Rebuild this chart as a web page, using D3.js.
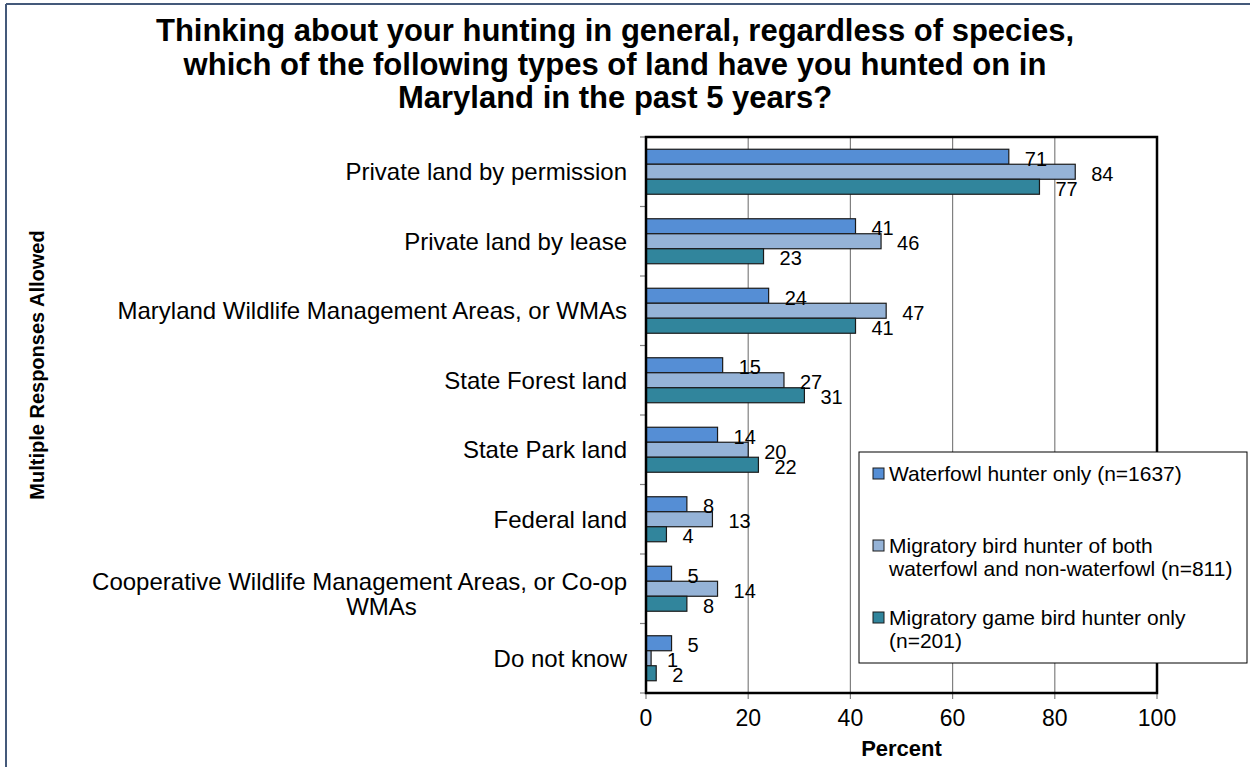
<!DOCTYPE html>
<html><head><meta charset="utf-8">
<script src="https://cdn.jsdelivr.net/npm/d3@7"></script>
<style>
body{margin:0;background:#fff;}
text{font-family:"Liberation Sans",Arial,sans-serif;fill:#000;}
</style></head>
<body>
<svg id="chart" width="1250" height="767"></svg>
<script>
const categories = [
  "Private land by permission",
  "Private land by lease",
  "Maryland Wildlife Management Areas, or WMAs",
  "State Forest land",
  "State Park land",
  "Federal land",
  "Cooperative Wildlife Management Areas, or Co-op WMAs",
  "Do not know"
];
const seriesNames = [
  "Waterfowl hunter only (n=1637)",
  "Migratory bird hunter of both waterfowl and non-waterfowl (n=811)",
  "Migratory game bird hunter only (n=201)"
];
const waterfowlOnly = [71, 41, 24, 15, 14, 8, 5, 5];
const bothTypes     = [84, 46, 47, 27, 20, 13, 14, 1];
const gameBirdOnly  = [77, 23, 41, 31, 22, 4, 8, 2];
const xTicks = [0, 20, 40, 60, 80, 100];
const titleLines = [
  "Thinking about your hunting in general, regardless of species,",
  "which of the following types of land have you hunted on in",
  "Maryland in the past 5 years?"
];
const categoryLabelLines = [
  ["Private land by permission"],
  ["Private land by lease"],
  ["Maryland Wildlife Management Areas, or WMAs"],
  ["State Forest land"],
  ["State Park land"],
  ["Federal land"],
  ["Cooperative Wildlife Management Areas, or Co-op", "WMAs"],
  ["Do not know"]
];
const legendLines = [
  ["Waterfowl hunter only (n=1637)"],
  ["Migratory bird hunter of both", "waterfowl and non-waterfowl (n=811)"],
  ["Migratory game bird hunter only", "(n=201)"]
];
const colors = ["#558ED5", "#95B3D7", "#31859C"];

const series = [waterfowlOnly, bothTypes, gameBirdOnly];
const svg = d3.select("#chart");

// outer frame
svg.append("line").attr("x1",6).attr("x2",6).attr("y1",4).attr("y2",767).attr("stroke","#44597a").attr("stroke-width",2);
svg.append("line").attr("x1",6).attr("x2",1250).attr("y1",4).attr("y2",4).attr("stroke","#44597a").attr("stroke-width",2);

const L = 646, R = 1157, T = 137, B = 693;
const x = d3.scaleLinear().domain([0,100]).range([L,R]);
const p = 0.3525;
const y0 = d3.scaleBand().domain(categories).range([T,B]).paddingInner(p).paddingOuter(p/2);
const y1 = d3.scaleBand().domain(d3.range(series.length)).range([0,y0.bandwidth()]);

// title
svg.append("g").selectAll("text").data(titleLines).join("text")
  .attr("x",615).attr("y",(d,i)=>41+i*33.5)
  .attr("text-anchor","middle").attr("font-size",31).attr("font-weight","bold")
  .text(d=>d);

// gridlines
svg.append("g").selectAll("line").data(xTicks.filter(t=>t>0&&t<100)).join("line")
  .attr("x1",d=>x(d)).attr("x2",d=>x(d)).attr("y1",T).attr("y2",B)
  .attr("stroke","#808080").attr("stroke-width",1.2);

// x ticks
svg.append("g").selectAll("line").data(xTicks).join("line")
  .attr("x1",d=>x(d)).attr("x2",d=>x(d)).attr("y1",B).attr("y2",B+6)
  .attr("stroke","#808080").attr("stroke-width",1.2);
// y ticks at band boundaries
const bounds = categories.map(c=>y0(c)-y0.step()*p/2).concat([B]);
svg.append("g").selectAll("line").data(bounds).join("line")
  .attr("x1",L-6).attr("x2",L).attr("y1",d=>d).attr("y2",d=>d)
  .attr("stroke","#808080").attr("stroke-width",1.2);

// bars
const rows = [];
categories.forEach((c,ci)=>series.forEach((s,si)=>rows.push({c,si,v:s[ci]})));
svg.append("g").selectAll("rect").data(rows).join("rect")
  .attr("x",x(0)).attr("y",d=>y0(d.c)+y1(d.si))
  .attr("width",d=>x(d.v)-x(0)).attr("height",y1.bandwidth())
  .attr("fill",d=>colors[d.si]).attr("stroke","#1a1a1a").attr("stroke-width",1.2);

// plot border
svg.append("rect").attr("x",L).attr("y",T).attr("width",R-L).attr("height",B-T)
  .attr("fill","none").attr("stroke","#000").attr("stroke-width",2.5);

// data labels
svg.append("g").selectAll("text").data(rows).join("text")
  .attr("x",d=>x(d.v)+16).attr("y",d=>y0(d.c)+y1(d.si)+y1.bandwidth()/2+2)
  .attr("dominant-baseline","central").attr("font-size",20)
  .text(d=>d.v);

// x tick labels
svg.append("g").selectAll("text").data(xTicks).join("text")
  .attr("x",d=>x(d)).attr("y",726).attr("text-anchor","middle").attr("font-size",23)
  .text(d=>d);
svg.append("text").attr("x",x(50)).attr("y",756).attr("text-anchor","middle")
  .attr("font-size",22).attr("font-weight","bold").text("Percent");

// y title
svg.append("text").attr("transform","translate(44,365) rotate(-90)")
  .attr("text-anchor","middle").attr("font-size",20).attr("font-weight","bold")
  .text("Multiple Responses Allowed");

// category labels
const cg = svg.append("g");
const cfs = 24;
categories.forEach((c,ci)=>{
  const lines = categoryLabelLines[ci];
  const cy = y0(c)+y0.bandwidth()/2;
  const t = cg.append("text").attr("font-size",cfs).attr("text-anchor","end");
  if(lines.length===1){
    t.attr("x",627).attr("y",cy).attr("dominant-baseline","central").text(lines[0]);
  } else {
    t.attr("x",627).attr("y",cy-7).attr("dominant-baseline","central").text(lines[0]);
    const w = t.node().getComputedTextLength();
    cg.append("text").attr("font-size",cfs).attr("text-anchor","middle")
      .attr("x",627-w/2+22).attr("y",cy+18).attr("dominant-baseline","central").text(lines[1]);
  }
});

// legend
const lgX = 859, lgY = 452, lgW = 388, lgH = 211;
svg.append("rect").attr("x",lgX).attr("y",lgY).attr("width",lgW).attr("height",lgH)
  .attr("fill","#fff").attr("stroke","#000").attr("stroke-width",1);
const entryY = [473, 545, 617];
legendLines.forEach((lines,i)=>{
  svg.append("rect").attr("x",lgX+14).attr("y",entryY[i]-5).attr("width",11).attr("height",11)
    .attr("fill",colors[i]).attr("stroke","#1a1a1a").attr("stroke-width",1);
  lines.forEach((ln,j)=>{
    svg.append("text").attr("x",lgX+30).attr("y",entryY[i]+j*23)
      .attr("dominant-baseline","central").attr("font-size",21).text(ln);
  });
});
</script>
</body></html>
